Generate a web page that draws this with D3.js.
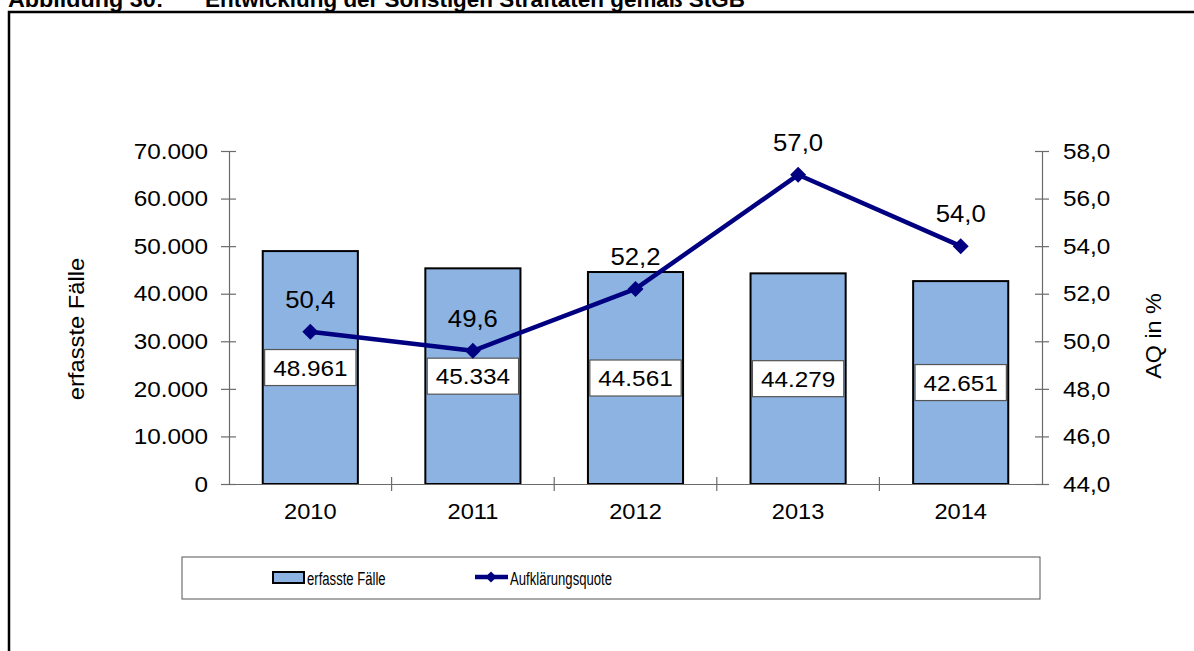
<!DOCTYPE html>
<html>
<head>
<meta charset="utf-8">
<script src="https://cdn.jsdelivr.net/npm/d3@7"></script>
<style>
  html, body { margin: 0; padding: 0; background: #fff; }
  svg { display: block; font-family: "Liberation Sans", Arial, sans-serif; }
</style>
</head>
<body>
<svg id="chart" width="1194" height="651"></svg>
<script>
// Data
const years = ["2010", "2011", "2012", "2013", "2014"];
const cases = [48961, 45334, 44561, 44279, 42651];
const clearanceRate = [50.4, 49.6, 52.2, 57.0, 54.0];
const leftTicks = [0, 10000, 20000, 30000, 40000, 50000, 60000, 70000];
const rightTicks = [44, 46, 48, 50, 52, 54, 56, 58];
const seriesNames = ["erfasste Fälle", "Aufklärungsquote"];

const de = d3.formatLocale({ decimal: ",", thousands: ".", grouping: [3], currency: ["", " €"] });
const fmtInt = de.format(",d");
const fmtPct = de.format(".1f");

const barColor = "#8db3e2";
const lineColor = "#000080";
const axisColor = "#6b6b6b";
const FONT = "Liberation Sans, Arial, sans-serif";

// Slightly widen glyphs of a text selection by factor k
function widen(sel, k) {
  sel.each(function () {
    const w = this.getComputedTextLength();
    d3.select(this).attr("textLength", w * k).attr("lengthAdjust", "spacingAndGlyphs");
  });
  return sel;
}

const svg = d3.select("#chart");

// Outer frame and caption
svg.append("rect").attr("x", 9).attr("y", 12).attr("width", 1300).attr("height", 800)
  .attr("fill", "none").attr("stroke", "#000").attr("stroke-width", 2.5);
const cap1 = svg.append("text").attr("x", 8).attr("y", 7).attr("font-size", 22).attr("font-weight", "bold")
  .text("Abbildung 30:");
const cap2 = svg.append("text").attr("x", 205).attr("y", 7).attr("font-size", 22).attr("font-weight", "bold")
  .text("Entwicklung der Sonstigen Straftaten gemäß StGB");
widen(cap1, 1.06);
widen(cap2, 1.02);

// Plot area
const plotLeft = 229, plotRight = 1042, plotTop = 151, plotBottom = 484;
const x = d3.scaleBand().domain(years).range([plotLeft, plotRight]).paddingInner(0).paddingOuter(0);
const yL = d3.scaleLinear().domain([0, 70000]).range([plotBottom, plotTop]);
const yR = d3.scaleLinear().domain([44, 58]).range([plotBottom, plotTop]);
const barW = x.bandwidth() * 0.585;

// Bars
svg.append("g").selectAll("rect").data(years).join("rect")
  .attr("x", (d) => x(d) + (x.bandwidth() - barW) / 2)
  .attr("y", (d, i) => yL(cases[i]))
  .attr("width", barW)
  .attr("height", (d, i) => plotBottom - yL(cases[i]))
  .attr("fill", barColor).attr("stroke", "#000").attr("stroke-width", 2);

// Left axis with ticks crossing the axis line
const gL = svg.append("g").attr("transform", `translate(${plotLeft},0)`)
  .call(d3.axisLeft(yL).tickValues(leftTicks).tickFormat(fmtInt).tickSize(8).tickPadding(13));
gL.selectAll(".tick").append("line").attr("x1", 0).attr("x2", 7).attr("stroke", axisColor);
gL.selectAll("line, path").attr("stroke", axisColor).attr("stroke-width", 1.2);
widen(gL.selectAll("text").attr("font-size", 22.5).attr("fill", "#000").attr("font-family", FONT), 1.08);

// Right axis
const gR = svg.append("g").attr("transform", `translate(${plotRight},0)`)
  .call(d3.axisRight(yR).tickValues(rightTicks).tickFormat(fmtPct).tickSize(7).tickPadding(14));
gR.selectAll(".tick").append("line").attr("x1", 0).attr("x2", -7).attr("stroke", axisColor);
gR.selectAll("line, path").attr("stroke", axisColor).attr("stroke-width", 1.2);
widen(gR.selectAll("text").attr("font-size", 22.5).attr("fill", "#000").attr("font-family", FONT), 1.08);

// Category axis: ticks sit on band boundaries, labels at band centres
const gX = svg.append("g").attr("transform", `translate(0,${plotBottom})`)
  .call(d3.axisBottom(x).tickSize(0).tickPadding(19));
gX.select(".domain").attr("stroke", axisColor).attr("stroke-width", 1.2);
widen(gX.selectAll("text").attr("font-size", 22.5).attr("fill", "#000").attr("font-family", FONT), 1.05);
svg.append("g").selectAll("line").data(years.slice(1)).join("line")
  .attr("x1", (d) => x(d)).attr("x2", (d) => x(d))
  .attr("y1", plotBottom - 7).attr("y2", plotBottom + 7)
  .attr("stroke", axisColor).attr("stroke-width", 1.2);

// Axis titles
widen(svg.append("text").attr("transform", `translate(84,329) rotate(-90)`)
  .attr("text-anchor", "middle").attr("font-size", 22).text("erfasste Fälle"), 1.08);
widen(svg.append("text").attr("transform", `translate(1161,336) rotate(-90)`)
  .attr("text-anchor", "middle").attr("font-size", 22).text("AQ in %"), 1.06);

// Bar value labels in white boxes, centred in each bar
const cx = (d) => x(d) + x.bandwidth() / 2;
const barLabels = svg.append("g").selectAll("g").data(years).join("g")
  .attr("transform", (d, i) => `translate(${cx(d)},${(yL(cases[i]) + plotBottom) / 2})`);
widen(barLabels.append("text").attr("text-anchor", "middle").attr("dy", "0.36em")
  .attr("font-size", 22.5).text((d, i) => fmtInt(cases[i])), 1.08);
barLabels.each(function () {
  const g = d3.select(this);
  const w = +g.select("text").attr("textLength");
  g.insert("rect", "text").attr("x", -w / 2 - 8.5).attr("y", -18).attr("width", w + 17).attr("height", 36)
    .attr("fill", "#fff").attr("stroke", "#555").attr("stroke-width", 1.2);
});

// Clearance rate line with diamond markers
const line = d3.line().x((d, i) => cx(years[i])).y((d) => yR(d));
svg.append("path").datum(clearanceRate).attr("d", line)
  .attr("fill", "none").attr("stroke", lineColor).attr("stroke-width", 4.5).attr("stroke-linejoin", "round");
const diamond = "M0,-8L8,0L0,8L-8,0Z";
svg.append("g").selectAll("path").data(clearanceRate).join("path")
  .attr("transform", (d, i) => `translate(${cx(years[i])},${yR(d)})`)
  .attr("d", diamond).attr("fill", lineColor);
widen(svg.append("g").selectAll("text").data(clearanceRate).join("text")
  .attr("x", (d, i) => cx(years[i])).attr("y", (d) => yR(d) - 24)
  .attr("text-anchor", "middle").attr("font-size", 24.5).text((d) => fmtPct(d)), 1.05);

// Legend
const lg = svg.append("g");
lg.append("rect").attr("x", 182).attr("y", 557).attr("width", 858).attr("height", 42)
  .attr("fill", "#fff").attr("stroke", "#555").attr("stroke-width", 1);
lg.append("rect").attr("x", 273).attr("y", 572).attr("width", 31).attr("height", 11)
  .attr("fill", barColor).attr("stroke", "#000").attr("stroke-width", 2);
lg.append("text").attr("transform", "translate(307,585) scale(0.69,1)")
  .attr("font-size", 19).text(seriesNames[0]);
lg.append("line").attr("x1", 475).attr("x2", 508).attr("y1", 577).attr("y2", 577)
  .attr("stroke", lineColor).attr("stroke-width", 4.5);
lg.append("path").attr("transform", "translate(491,577) scale(0.7)").attr("d", diamond).attr("fill", lineColor);
lg.append("text").attr("transform", "translate(510,585) scale(0.69,1)")
  .attr("font-size", 19).text(seriesNames[1]);
</script>
</body>
</html>
